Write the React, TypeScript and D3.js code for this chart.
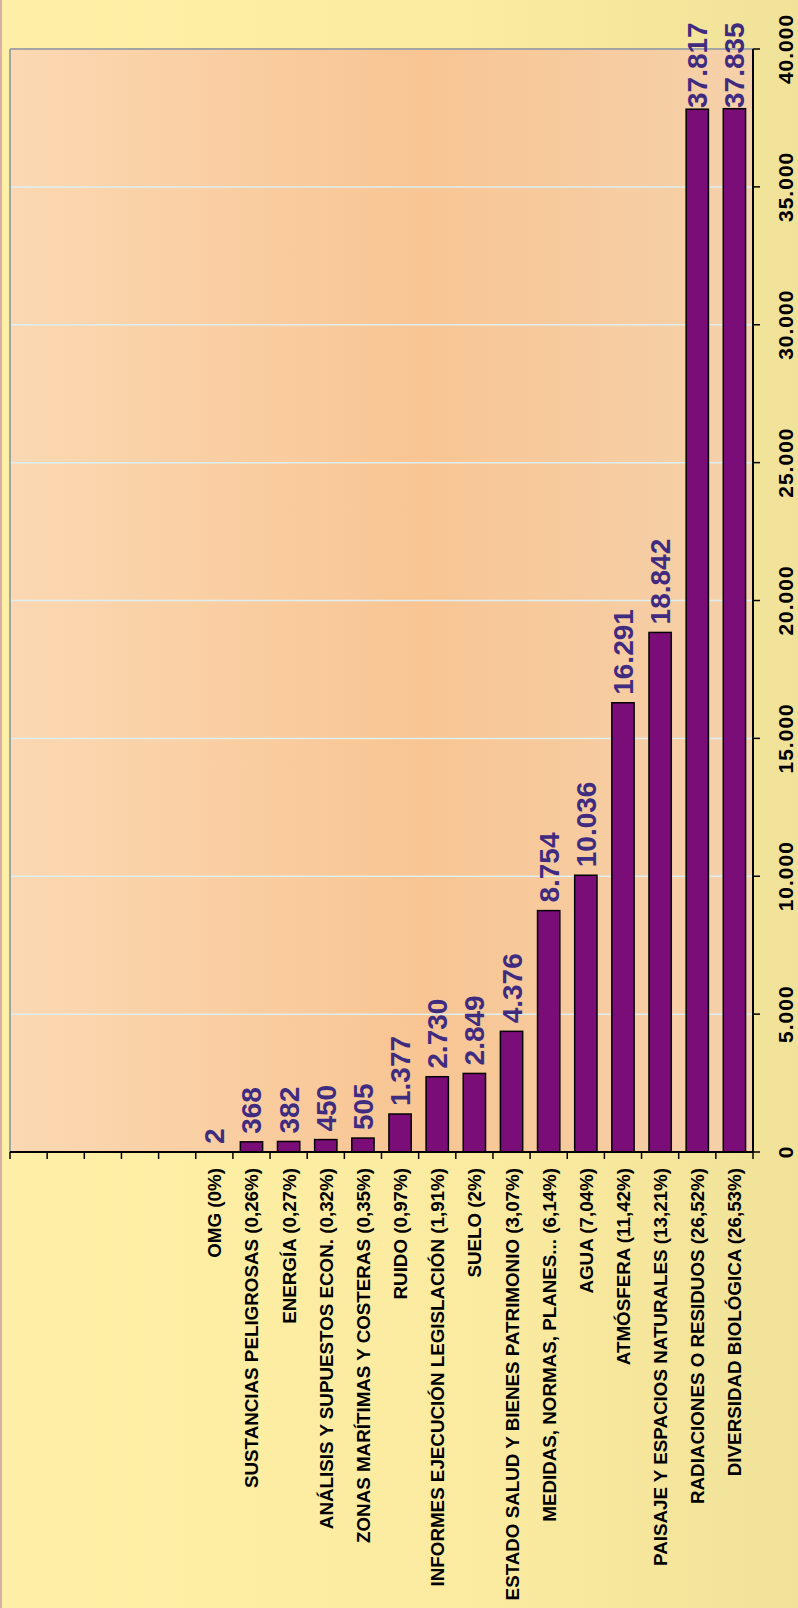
import React from "react";
import * as d3 from "d3";

// categories (left to right on the page), first slots of the axis are empty
const emptySlots = ["", "", "", "", ""];
const categories = [
  "OMG (0%)",
  "SUSTANCIAS PELIGROSAS (0,26%)",
  "ENERGÍA (0,27%)",
  "ANÁLISIS Y SUPUESTOS ECON. (0,32%)",
  "ZONAS MARÍTIMAS Y COSTERAS (0,35%)",
  "RUIDO (0,97%)",
  "INFORMES EJECUCIÓN LEGISLACIÓN (1,91%)",
  "SUELO (2%)",
  "ESTADO SALUD Y BIENES PATRIMONIO (3,07%)",
  "MEDIDAS, NORMAS, PLANES... (6,14%)",
  "AGUA (7,04%)",
  "ATMÓSFERA (11,42%)",
  "PAISAJE Y ESPACIOS NATURALES (13,21%)",
  "RADIACIONES O RESIDUOS (26,52%)",
  "DIVERSIDAD BIOLÓGICA (26,53%)",
];
const values = [2, 368, 382, 450, 505, 1377, 2730, 2849, 4376, 8754, 10036, 16291, 18842, 37817, 37835];
const valueTicks = [0, 5000, 10000, 15000, 20000, 25000, 30000, 35000, 40000];

const W = 798;
const H = 1608;
const margin = { top: 49, right: 45, bottom: 456, left: 10 };
const FONT = "Arial, 'Liberation Sans', Helvetica, sans-serif";

const es = d3.formatLocale({ decimal: ",", thousands: ".", grouping: [3], currency: ["", "€"] });
const fmt = es.format(",");

export default function App() {
  const slots = [...emptySlots, ...categories];
  const left = margin.left;
  const right = W - margin.right;
  const top = margin.top;
  const bottom = H - margin.bottom;

  const x = d3
    .scaleBand<number>()
    .domain(d3.range(slots.length))
    .range([left, right])
    .paddingInner(0.4)
    .paddingOuter(0.2);

  const slotEdge = d3.scaleLinear().domain([0, slots.length]).range([left, right]);

  const y = d3.scaleLinear().domain([0, 40000]).range([bottom, top]);

  const off = emptySlots.length;

  return (
    <svg
      width={W}
      height={H}
      style={{ position: "absolute", left: 0, top: 0, display: "block" }}
      fontFamily={FONT}
    >
      <defs>
        <linearGradient id="outer" x1="0" y1="0" x2="1" y2="0">
          <stop offset="0%" stopColor="#FDF0A6" />
          <stop offset="60%" stopColor="#FBEBA0" />
          <stop offset="100%" stopColor="#F0E299" />
        </linearGradient>
        <linearGradient id="plot" x1="0" y1="0" x2="1" y2="0">
          <stop offset="0%" stopColor="#FBD8B2" />
          <stop offset="55%" stopColor="#F8C593" />
          <stop offset="100%" stopColor="#F5D1AA" />
        </linearGradient>
      </defs>

      <rect x={0} y={0} width={W} height={H} fill="url(#outer)" />
      <rect x={0} y={0} width={2} height={H} fill="#D9AFA8" />

      <rect x={left} y={top} width={right - left} height={bottom - top} fill="url(#plot)" />

      {/* gridlines */}
      {valueTicks
        .filter((t) => t > 0 && t < 40000)
        .map((t) => (
          <line key={"g" + t} x1={left} x2={right} y1={y(t)} y2={y(t)} stroke="#DDEFF2" strokeWidth={1.5} />
        ))}

      {/* plot border (top / left) */}
      <line x1={left} x2={right} y1={top} y2={top} stroke="#A4A4A4" strokeWidth={2} />
      <line x1={left} x2={left} y1={top} y2={bottom} stroke="#A4A4A4" strokeWidth={2} />

      {/* bars */}
      {values.map((v, i) => (
        <rect
          key={"b" + i}
          x={x(i + off)}
          y={y(v)}
          width={x.bandwidth()}
          height={y(0) - y(v)}
          fill="#7B0D78"
          stroke="#000"
          strokeWidth={1.5}
        />
      ))}

      {/* value labels, kept from running off the top */}
      {values.map((v, i) => {
        const cx = (x(i + off) as number) + x.bandwidth() / 2 + 10;
        const cy = Math.max(y(v) - 8, 108);
        return (
          <text
            key={"l" + i}
            transform={`translate(${cx},${cy}) rotate(-90)`}
            fontSize={28}
            fontWeight="bold"
            fill="#3F2B80"
          >
            {fmt(v)}
          </text>
        );
      })}

      {/* category axis */}
      <line x1={left} x2={right} y1={bottom} y2={bottom} stroke="#000" strokeWidth={2} />
      {d3.range(slots.length + 1).map((i) => (
        <line
          key={"ct" + i}
          x1={slotEdge(i)}
          x2={slotEdge(i)}
          y1={bottom}
          y2={bottom + 7}
          stroke="#000"
          strokeWidth={1.5}
        />
      ))}
      {slots.map((c, i) =>
        c ? (
          <text
            key={"c" + i}
            transform={`translate(${(x(i) as number) + x.bandwidth() / 2 + 7},${bottom + 16}) rotate(-90)`}
            textAnchor="end"
            fontSize={18.8}
            fontWeight="bold"
            fill="#000"
          >
            {c}
          </text>
        ) : null
      )}

      {/* value axis */}
      <line x1={right} x2={right} y1={top} y2={bottom} stroke="#000" strokeWidth={2} />
      {valueTicks.map((t) => (
        <g key={"vt" + t}>
          <line x1={right} x2={right + 7} y1={y(t)} y2={y(t)} stroke="#000" strokeWidth={1.5} />
          <text
            transform={`translate(${right + 40},${y(t)}) rotate(-90)`}
            textAnchor="middle"
            fontSize={21}
            fontWeight="bold"
            letterSpacing={1}
            fill="#000"
          >
            {fmt(t)}
          </text>
        </g>
      ))}
    </svg>
  );
}
